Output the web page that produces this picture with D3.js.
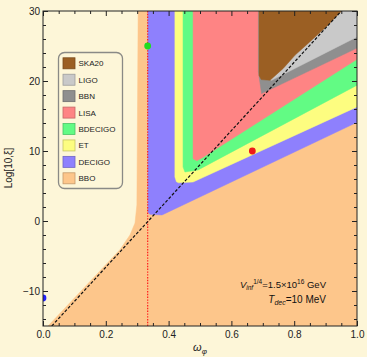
<!DOCTYPE html>
<html><head><meta charset="utf-8">
<script src="https://cdn.jsdelivr.net/npm/d3@7"></script>
<style>body{margin:0;background:#fdf6d8}svg{display:block}</style>
</head><body><svg id="c" width="367" height="357"></svg>
<script>
// ---- data (omega_phi, log10 xi) ----
const legendNames = ["SKA20","LIGO","BBN","LISA","BDECIGO","ET","DECIGO","BBO"];
const bbo     = [[0.016,-15],[0.245,-4.1],[0.277,-2.0],[0.293,-0.3],[0.299,2.3],[0.303,30],[1,30],[1,-15]];
const decigo  = [[0.334,30],[0.334,1.3],[0.340,0.95],[0.379,0.86],[1,14.1],[1,30]];
const et      = [[0.420,30],[0.420,6.3],[0.425,5.6],[0.432,5.45],[0.478,5.57],[1,16.3],[1,30]];
const bdecigo = [[0.446,30],[0.446,7.7],[0.452,7.0],[0.494,7.3],[1,19.4],[1,30]];
const lisa    = [[0.478,30],[0.478,8.9],[0.49,8.6],[0.51,9.1],[1,23.1],[1,30]];
const bbn     = [[0.686,30],[0.686,21.3],[0.696,18.2],[1,24.7],[1,30]];
const ligo    = [[0.70,30],[0.70,20.6],[0.728,20.1],[1,26.3],[1,30]];
const ska20   = [[0.688,30],[0.688,20.8],[0.695,20.2],[0.723,20.1],[0.765,21.8],[0.803,23.7],[0.845,25.4],[0.903,27.8],[0.951,30]];
const diagLine = [[0.028,-15],[0.95,30]];
const vLine    = [[1/3,-15],[1/3,30]];
const pointsX = [1/3, 2/3, 0];
const pointsY = [25, 10, -11];
const xMajor = [0,0.2,0.4,0.6,0.8,1.0];
const yMajor = [-10,0,10,20,30];

// ---- styles ----
const regionColors = {SKA20:"#9b5f23",LIGO:"#c9c9c9",BBN:"#8f8f8f",LISA:"#fe8484",BDECIGO:"#62fb84",ET:"#fdfd80",DECIGO:"#8e80fd",BBO:"#fdc68b"};
const pointColors = ["#20dc20","#ee1a1a","#2020ff"];
const font = "'Liberation Sans', Arial, sans-serif";

const svg = d3.select("#c");
const x = d3.scaleLinear([0,1],[43,357]);
const y = d3.scaleLinear([-15,30],[326,11]);

svg.append("defs").append("clipPath").attr("id","pc")
  .append("rect").attr("x",43).attr("y",11).attr("width",314).attr("height",315);

const plot = svg.append("g").attr("clip-path","url(#pc)");
plot.append("rect").attr("x",43).attr("y",11).attr("width",314).attr("height",315).attr("fill","#fdf6d8");

const line = d3.line().x(d=>x(d[0])).y(d=>y(d[1]));
const layers = [["BBO",bbo],["DECIGO",decigo],["ET",et],["BDECIGO",bdecigo],["LISA",lisa],["BBN",bbn],["LIGO",ligo],["SKA20",ska20]];
layers.forEach(([n,pts])=>{
  plot.append("path").attr("d",line(pts)+"Z").attr("fill",regionColors[n]).attr("stroke",regionColors[n]).attr("stroke-width",0.5);
});

plot.append("path").attr("d",line(vLine)).attr("stroke","#ff1a1a").attr("stroke-width",1.2).attr("stroke-dasharray","1.4,1.4").attr("fill","none");
plot.append("path").attr("d",line(diagLine)).attr("stroke","#111").attr("stroke-width",1.2).attr("stroke-dasharray","3,1.8").attr("fill","none");

plot.selectAll("circle.p").data(pointsX).enter().append("circle")
  .attr("cx",(d,i)=>x(d)).attr("cy",(d,i)=>y(pointsY[i])).attr("r",3.4)
  .attr("fill",(d,i)=>pointColors[i]);

// ---- axes (ticks inward) ----
const xMinor = d3.range(0,1.0001,0.05).filter(v=>!xMajor.some(m=>Math.abs(m-v)<1e-6));
const yMinor = d3.range(-14,30,2).filter(v=>v%10!==0);
function styleAxis(g){g.select(".domain").remove();g.selectAll("line").attr("stroke","#222");g.selectAll("text").attr("fill","#222").style("font-family",font).style("font-size","10px");}
svg.append("g").attr("transform","translate(0,326)").call(d3.axisBottom(x).tickValues(xMajor).tickFormat(d3.format(".1f")).tickSize(-5).tickPadding(5)).call(styleAxis);
svg.append("g").attr("transform","translate(0,326)").call(d3.axisBottom(x).tickValues(xMinor).tickFormat("").tickSize(-3)).call(styleAxis);
svg.append("g").attr("transform","translate(0,11)").call(d3.axisTop(x).tickValues(xMajor).tickFormat("").tickSize(-5)).call(styleAxis);
svg.append("g").attr("transform","translate(0,11)").call(d3.axisTop(x).tickValues(xMinor).tickFormat("").tickSize(-3)).call(styleAxis);
svg.append("g").attr("transform","translate(43,0)").call(d3.axisLeft(y).tickValues(yMajor).tickFormat(d3.format("d")).tickSize(-5).tickPadding(3)).call(styleAxis);
svg.append("g").attr("transform","translate(43,0)").call(d3.axisLeft(y).tickValues(yMinor).tickFormat("").tickSize(-3)).call(styleAxis);
svg.append("g").attr("transform","translate(357,0)").call(d3.axisRight(y).tickValues(yMajor).tickFormat("").tickSize(-5)).call(styleAxis);
svg.append("g").attr("transform","translate(357,0)").call(d3.axisRight(y).tickValues(yMinor).tickFormat("").tickSize(-3)).call(styleAxis);
svg.append("rect").attr("x",43).attr("y",11).attr("width",314).attr("height",315).attr("fill","none").attr("stroke","#222").attr("stroke-width",1);

// ---- axis titles ----
const xt = svg.append("text").attr("x",200).attr("y",351).attr("text-anchor","middle").style("font-family",font).style("font-size","11px").attr("fill","#222");
xt.append("tspan").style("font-style","italic").text("ω");
xt.append("tspan").attr("dy",3).style("font-size","8px").style("font-style","italic").text("φ");
svg.append("text").attr("transform","translate(12,168) rotate(-90)").attr("text-anchor","middle")
  .style("font-family",font).style("font-size","10px").attr("fill","#222").text("Log[10,ξ]");

// ---- annotation ----
const a1 = svg.append("text").attr("x",326).attr("y",288).attr("text-anchor","end").style("font-family",font).style("font-size","9.5px").attr("fill","#111");
a1.append("tspan").style("font-style","italic").text("V");
a1.append("tspan").attr("dy",2).style("font-size","6.5px").style("font-style","italic").text("inf");
a1.append("tspan").attr("dy",-6).style("font-size","6.5px").text("1/4");
a1.append("tspan").attr("dy",4).text("=1.5×10");
a1.append("tspan").attr("dy",-4).style("font-size","6.5px").text("16");
a1.append("tspan").attr("dy",4).text(" GeV");
const a2 = svg.append("text").attr("x",326).attr("y",303).attr("text-anchor","end").style("font-family",font).style("font-size","10px").attr("fill","#111");
a2.append("tspan").style("font-style","italic").text("T");
a2.append("tspan").attr("dy",2).style("font-size","7px").style("font-style","italic").text("dec");
a2.append("tspan").attr("dy",-2).text("=10 MeV");

// ---- legend ----
const lg = svg.append("g");
lg.append("rect").attr("x",58.5).attr("y",52.5).attr("width",64).attr("height",136).attr("rx",6)
  .attr("fill","#fdf6d8").attr("stroke","#8a8a86").attr("stroke-width",1.3);
const ly = d3.scalePoint(legendNames,[63.3,178.3]);
legendNames.forEach(n=>{
  const c = regionColors[n];
  lg.append("rect").attr("x",63).attr("y",ly(n)-5.5).attr("width",12).attr("height",11)
    .attr("fill",c).attr("stroke",d3.color(c).darker(0.7)).attr("stroke-width",0.8);
  lg.append("text").attr("x",78.5).attr("y",ly(n)+3).style("font-family",font).style("font-size","8px").attr("fill","#222").text(n);
});
</script></body></html>
